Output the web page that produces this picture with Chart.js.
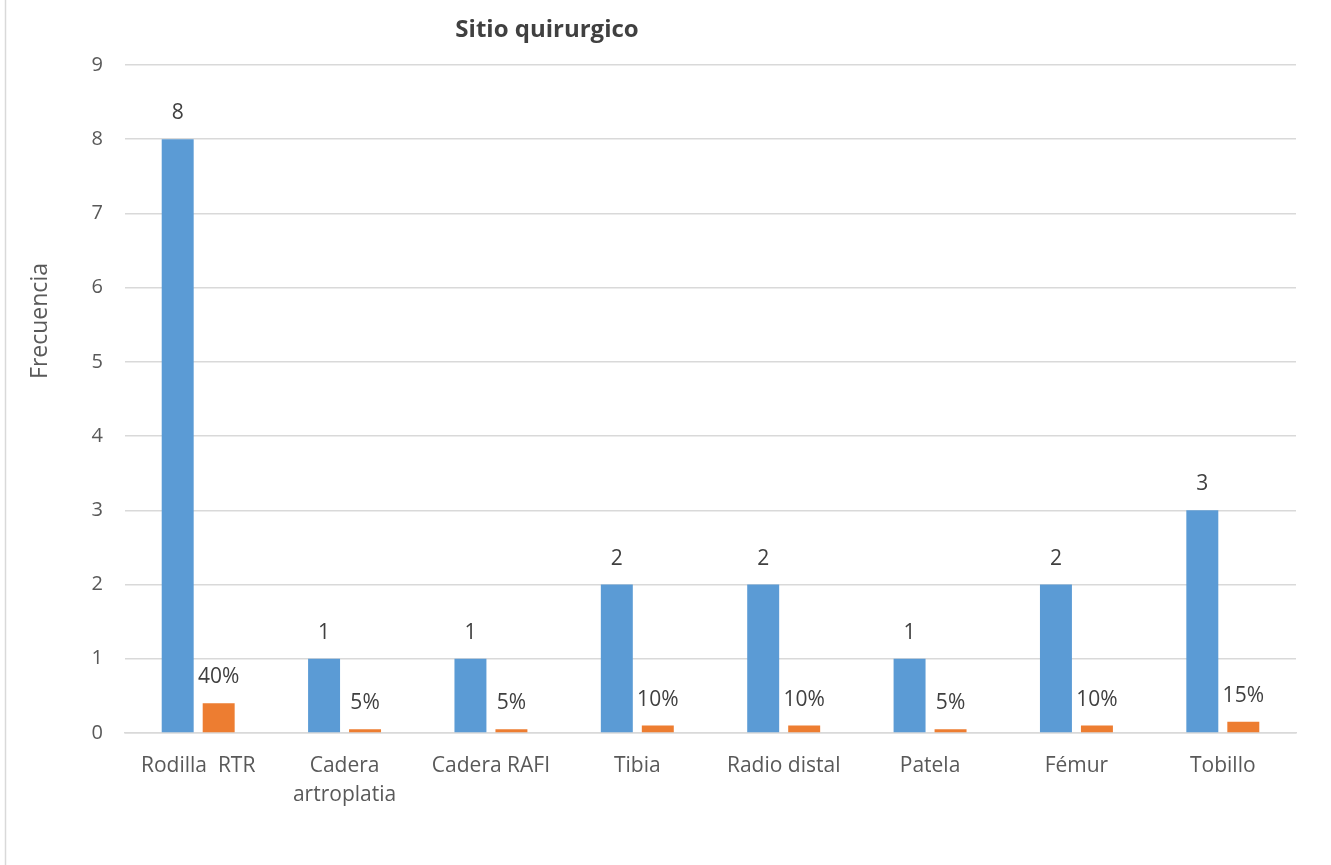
<!DOCTYPE html>
<html lang="es">
<head>
<meta charset="utf-8">
<title>Sitio quirurgico</title>
<script src="https://cdn.jsdelivr.net/npm/chart.js@4"></script>
<style>
  html, body { margin: 0; padding: 0; background: #fff; }
  #wrap { width: 1331px; height: 865px; }
</style>
</head>
<body>
<div id="wrap"><canvas id="sitioChart" width="1331" height="865"></canvas></div>
<script>
const categorias = [
  "Rodilla  RTR",
  ["Cadera", "artroplatia"],
  "Cadera RAFI",
  "Tibia",
  "Radio distal",
  "Patela",
  "Fémur",
  "Tobillo"
];
const frecuencia = [8, 1, 1, 2, 2, 1, 2, 3];
const porcentaje = [0.40, 0.05, 0.05, 0.10, 0.10, 0.05, 0.10, 0.15];
const ticksY = [0, 1, 2, 3, 4, 5, 6, 7, 8, 9];
const titulo = "Sitio quirurgico";
const tituloY = "Frecuencia";

const FONT = "'Open Sans', 'Liberation Sans', sans-serif";
const GRIS = "#d9d9d9";
const TEXTO = "#595959";

// etiquetas de valor sobre cada barra
const etiquetasBarras = {
  id: "etiquetasBarras",
  afterDatasetsDraw(chart) {
    const ctx = chart.ctx;
    ctx.save();
    ctx.font = "21px " + FONT;
    ctx.fillStyle = "#404040";
    ctx.textAlign = "center";
    ctx.textBaseline = "middle";
    chart.data.datasets.forEach((ds, i) => {
      const meta = chart.getDatasetMeta(i);
      meta.data.forEach((bar, j) => {
        const v = ds.data[j];
        const txt = i === 0 ? String(v) : Math.round(v * 100) + "%";
        ctx.fillText(txt, bar.x, bar.y - 26);
      });
    });
    ctx.restore();
  }
};

// título, rótulo del eje Y y borde izquierdo
const marco = {
  id: "marco",
  beforeDraw(chart) {
    const ctx = chart.ctx;
    ctx.save();
    ctx.strokeStyle = GRIS;
    ctx.lineWidth = 1.5;
    ctx.beginPath();
    ctx.moveTo(5.5, 0);
    ctx.lineTo(5.5, chart.height);
    ctx.stroke();

    ctx.textAlign = "center";
    ctx.textBaseline = "middle";
    ctx.font = "bold 24px " + FONT;
    ctx.fillStyle = "#404040";
    ctx.fillText(titulo, 547, 30);

    ctx.font = "23px " + FONT;
    ctx.fillStyle = TEXTO;
    ctx.translate(40, 321);
    ctx.rotate(-Math.PI / 2);
    ctx.fillText(tituloY, 0, 0);
    ctx.restore();
  }
};

new Chart(document.getElementById("sitioChart"), {
  type: "bar",
  data: {
    labels: categorias,
    datasets: [
      {
        label: "Frecuencia",
        data: frecuencia,
        backgroundColor: "#5b9bd5",
        categoryPercentage: 0.56,
        barPercentage: 0.78
      },
      {
        label: "Porcentaje",
        data: porcentaje,
        backgroundColor: "#ed7d31",
        categoryPercentage: 0.56,
        barPercentage: 0.78
      }
    ]
  },
  options: {
    responsive: false,
    animation: false,
    layout: { padding: { left: 0, right: 35, top: 65, bottom: 0 } },
    plugins: {
      legend: { display: false },
      tooltip: { enabled: false },
      title: { display: false }
    },
    scales: {
      x: {
        grid: { display: false, drawTicks: false },
        border: { display: true, color: GRIS, width: 1.5 },
        ticks: {
          color: TEXTO,
          font: { family: FONT, size: 21, lineHeight: 1.4 },
          padding: 18,
          maxRotation: 0,
          autoSkip: false
        },
        afterFit(scale) { scale.height = 132; }
      },
      y: {
        min: 0,
        max: 9,
        afterBuildTicks(scale) { scale.ticks = ticksY.map(v => ({ value: v })); },
        grid: { color: GRIS, lineWidth: 1.5, drawTicks: false },
        border: { display: false },
        ticks: {
          color: TEXTO,
          font: { family: FONT, size: 20 },
          padding: 22
        },
        afterFit(scale) { scale.width = 125; }
      }
    }
  },
  plugins: [etiquetasBarras, marco]
});
</script>
</body>
</html>
